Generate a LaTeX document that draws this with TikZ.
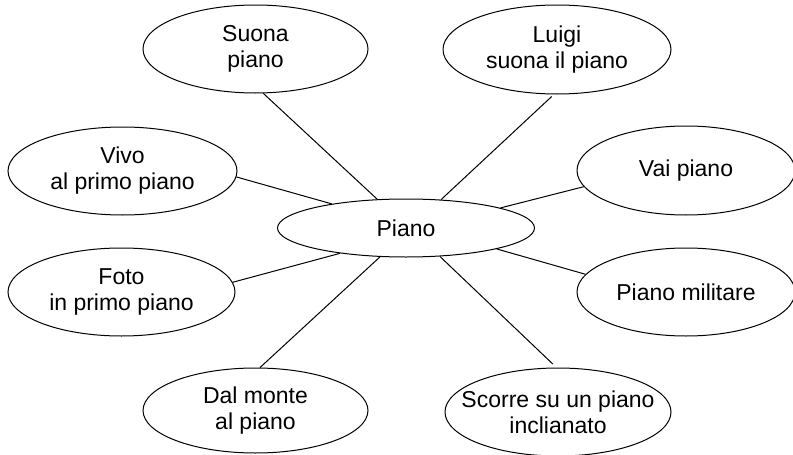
\documentclass[tikz,border=0pt]{standalone}
\usepackage{fontspec}
\setmainfont{Liberation Sans}
\usetikzlibrary{shapes.geometric}

\begin{document}
\begin{tikzpicture}[
x=1pt, y=-1pt,
line width=1pt,
font=\fontsize{23}{26}\selectfont,
bubble/.style 2 args={ellipse, draw, inner sep=0pt, minimum width=#1, minimum height=#2},
every label/.style={align=center},
]
\useasboundingbox (0,0) rectangle (793,455);
% nodes
\node[bubble={257pt}{58pt}, label=center:Piano] (piano) at (406,228) {};
\node[bubble={225pt}{88pt}, label={center:Suona\\piano}] (suona) at (255.5,49) {};
\node[bubble={228pt}{89pt}, label={center:Luigi\\suona il piano}] (luigi) at (557,49.5) {};
\node[bubble={229pt}{88pt}, label={center:Vivo\\al primo piano}] (vivo) at (122.5,171) {};
\node[bubble={218pt}{89pt}, label={center:Vai piano}] (vai) at (686,170.5) {};
\node[bubble={227pt}{88pt}, label={center:Foto\\in primo piano}] (foto) at (121.5,292) {};
\node[bubble={218pt}{88pt}, label={center:Piano militare}] (militare) at (686,292) {};
\node[bubble={225pt}{85pt}, label={center:Dal monte\\al piano}] (dal) at (255.5,410.5) {};
\node[bubble={226pt}{88pt}, label={center:Scorre su un piano\\inclianato}] (scorre) at (558,412) {};
% lines
\draw (suona.-80) -- (piano.135);
\draw[shorten <=3pt] (luigi.-94) -- (piano.39);
\draw (vivo.-3) -- (piano.162);
\draw (vai.189) -- (piano.12);
\draw (foto.5) -- (piano.201);
\draw (militare.170) -- (piano.-13);
\draw (dal.84) -- (piano.228);
\draw[shorten <=5pt] (scorre.92) -- (piano.-40);
\end{tikzpicture}
\end{document}
